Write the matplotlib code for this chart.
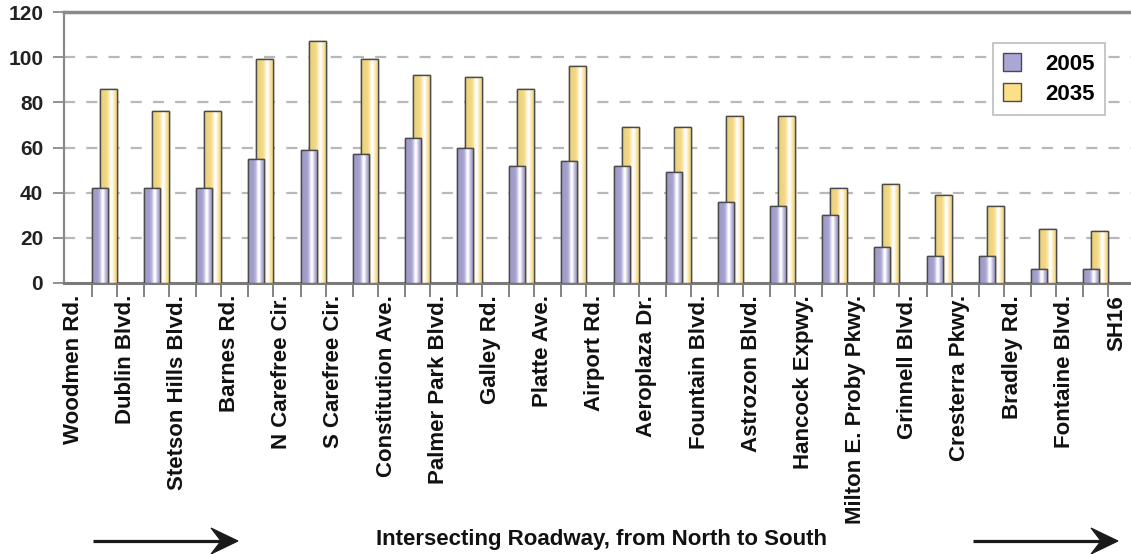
import numpy as np
import matplotlib
matplotlib.use("Agg")
import matplotlib.pyplot as plt
from matplotlib.patches import Rectangle, Polygon
from matplotlib.transforms import IdentityTransform

plt.rcParams['font.family'] = ['Liberation Sans', 'DejaVu Sans']

roadways = ["Woodmen Rd.", "Dublin Blvd.", "Stetson Hills Blvd.", "Barnes Rd.",
            "N Carefree Cir.", "S Carefree Cir.", "Constitution Ave.", "Palmer Park Blvd.",
            "Galley Rd.", "Platte Ave.", "Airport Rd.", "Aeroplaza Dr.", "Fountain Blvd.",
            "Astrozon Blvd.", "Hancock Expwy.", "Milton E. Proby Pkwy.", "Grinnell Blvd.",
            "Cresterra Pkwy.", "Bradley Rd.", "Fontaine Blvd.", "SH16"]
vals_2005 = [42, 42, 42, 55, 59, 57, 64, 60, 52, 54, 52, 49, 36, 34, 30, 16, 12, 12, 6, 6]
vals_2035 = [86, 76, 76, 99, 107, 99, 92, 91, 86, 96, 69, 69, 74, 74, 42, 44, 39, 34, 24, 23]
series_names = ["2005", "2035"]
yticks = [0, 20, 40, 60, 80, 100, 120]
xlabel = "Intersecting Roadway, from North to South"

W, H = 1131, 554
fig = plt.figure(figsize=(W / 100, H / 100), dpi=100)
ax = fig.add_axes([64 / W, 1 - 283 / H, 1 - 64 / W, (283 - 12) / H])

n = len(vals_2005)
x = np.arange(n)
w05, w35 = 0.307, 0.326
off05 = -0.24 + w05 / 2
off35 = 0.24 - w35 / 2

lav = np.array([170, 166, 214]) / 255
yel = np.array([252, 224, 136]) / 255
edge = '#4a4a4a'

bars35 = ax.bar(x + off35, vals_2035, width=w35, color=yel, edgecolor=edge, linewidth=1.0, zorder=3)
bars05 = ax.bar(x + off05, vals_2005, width=w05, color=lav, edgecolor=edge, linewidth=1.0, zorder=5)


def gradient(base):
    t = np.linspace(0, 1, 64)
    hl = np.exp(-((t - 0.64) / 0.15) ** 2)
    dark = 1 - 0.12 * np.abs(t - 0.64)
    cols = np.outer(dark, base) * (1 - hl[:, None]) + hl[:, None] * np.array([1, 1, 1])
    return np.clip(cols[None, :, :], 0, 1)


for bars, base, z in ((bars35, yel, 3.5), (bars05, lav, 5.5)):
    img = gradient(base)
    for p in bars:
        x0, y0 = p.get_x(), p.get_y()
        im = ax.imshow(img, extent=(x0, x0 + p.get_width(), y0, y0 + p.get_height()),
                       aspect='auto', zorder=z, interpolation='bilinear')
        im.set_clip_path(p)
    for p in bars:
        r = Rectangle((p.get_x(), p.get_y()), p.get_width(), p.get_height(), fill=False,
                      edgecolor=edge, linewidth=1.0, zorder=z + 0.1)
        ax.add_patch(r)

ax.set_xlim(-0.776, 19.68)
ax.set_ylim(0, 120)

for yv in yticks[1:-1]:
    ax.axhline(yv, color='#b8b8b8', linewidth=1.6, linestyle=(0, (5, 5)), zorder=1)

ax.spines['right'].set_visible(False)
ax.spines['top'].set_color('#8a8a8a')
ax.spines['top'].set_linewidth(2.5)
ax.spines['bottom'].set_color('#7a7a7a')
ax.spines['bottom'].set_linewidth(2.2)
ax.spines['left'].set_color('#8a8a8a')
ax.spines['left'].set_linewidth(1.6)

ax.set_yticks(yticks)
ax.set_yticklabels([str(v) for v in yticks], fontsize=15, fontweight='bold', color='#222222')
ax.tick_params(axis='y', length=8, width=1.3, color='#8a8a8a', pad=7)

edges = np.sort(np.concatenate([x - 0.24, x + 0.24]))
ax.set_xticks(edges)
ax.set_xticklabels([])
ax.tick_params(axis='x', length=10, width=1.3, color='#7a7a7a', direction='out')

for k, name in enumerate(roadways):
    ax.annotate(name, xy=(k - 0.6, 0), xycoords=('data', 'axes fraction'),
                xytext=(0, -12), textcoords='offset pixels', rotation=90,
                ha='center', va='top', fontsize=16, fontweight='bold', color='#111111',
                annotation_clip=False)

h1 = Rectangle((0, 0), 1, 1, facecolor=lav, edgecolor=edge, linewidth=1.0)
h2 = Rectangle((0, 0), 1, 1, facecolor=yel, edgecolor=edge, linewidth=1.0)
leg = ax.legend([h1, h2], series_names, loc='upper right',
                bbox_to_anchor=((1105 - 64) / (W - 64), (283 - 43) / 271),
                borderaxespad=0, fancybox=False, frameon=True, prop={'size': 16, 'weight': 'bold'},
                handlelength=0.82, handleheight=0.9, handletextpad=1.1, labelspacing=0.36,
                borderpad=0.45, framealpha=1)
leg.get_frame().set_edgecolor('#bdbdbd')
leg.get_frame().set_linewidth(1.2)
leg.set_zorder(10)

fig.text(602 / W, 1 - 539 / H, xlabel, ha='center', va='center', fontsize=16,
         fontweight='bold', color='#111111')

yA = H - 541
for x0, x1 in ((93, 238), (973, 1118)):
    fig.add_artist(matplotlib.lines.Line2D([x0, x1 - 8], [yA, yA], transform=IdentityTransform(),
                                           color='#1a1a1a', linewidth=2.3, solid_capstyle='butt'))
    head = Polygon([[x1, yA], [x1 - 27, yA + 13], [x1 - 17, yA], [x1 - 27, yA - 13]],
                   closed=True, transform=IdentityTransform(), facecolor='#1a1a1a',
                   edgecolor='#1a1a1a', linewidth=0.8)
    fig.add_artist(head)

fig.savefig('out.png', dpi=100)
